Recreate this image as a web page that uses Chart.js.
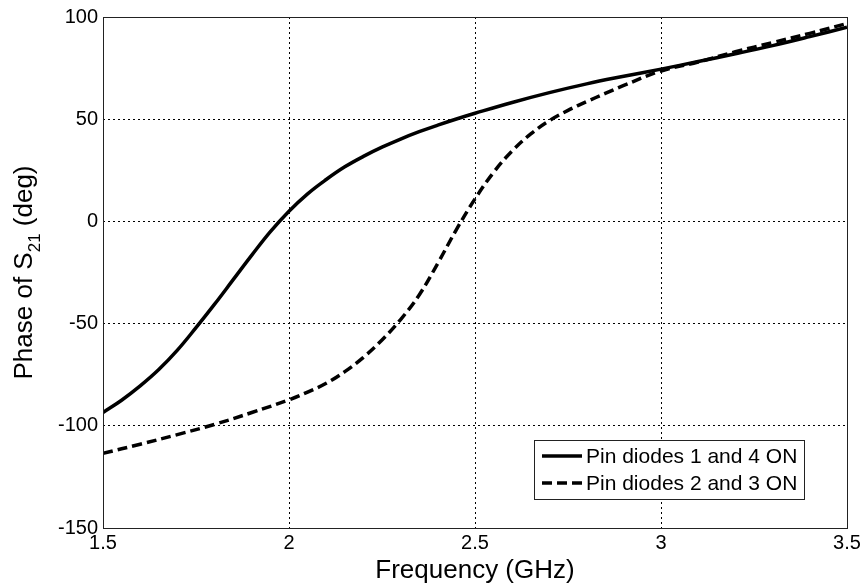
<html><head>
<style>
body { margin: 0; background: #fff; }
#wrap { width: 867px; height: 588px; }
</style>
</head>
<body>
<script src="https://cdn.jsdelivr.net/npm/chart.js@4/dist/chart.umd.min.js"></script>
<div id="wrap"><canvas id="myChart" width="867" height="588"></canvas></div>
<script>
// frequency in GHz, phase in deg
freq1 = [1.50, 1.55, 1.60, 1.65, 1.70, 1.75, 1.80, 1.85, 1.90, 1.95, 2.00, 2.05, 2.10, 2.15, 2.20, 2.25, 2.30, 2.35, 2.40, 2.45, 2.50, 2.60, 2.70, 2.80, 2.90, 3.00, 3.10, 3.20, 3.30, 3.40, 3.50];
phase1 = [-93.5, -87.5, -80.5, -72.5, -63, -52, -40.5, -28.5, -16.5, -5, 5, 13.5, 20.5, 26.7, 31.8, 36.3, 40.3, 43.9, 47.1, 50.1, 52.9, 58.2, 63, 67.3, 71, 74.5, 78.2, 82, 86, 90.4, 95];
freq2 = [1.50, 1.60, 1.70, 1.80, 1.90, 2.00, 2.05, 2.10, 2.15, 2.20, 2.25, 2.30, 2.35, 2.40, 2.45, 2.50, 2.55, 2.60, 2.65, 2.70, 2.75, 2.80, 2.85, 2.90, 3.00, 3.10, 3.20, 3.30, 3.40, 3.50];
phase2 = [-113.5, -109, -104.3, -99.3, -93.5, -87.3, -83.5, -79.2, -73.5, -66.5, -58, -48, -36, -20.5, -4, 11, 24, 34.5, 42.8, 49.3, 54.3, 58.6, 62.6, 66.5, 73.6, 78, 83, 87.5, 92, 96.8];
labels = ['Pin diodes 1 and 4 ON', 'Pin diodes 2 and 3 ON'];
xTicks = [1.5, 2, 2.5, 3, 3.5];
yTicks = [-150, -100, -50, 0, 50, 100];

function pts(xs, ys) {
  out = [];
  for (let i = 0; i < xs.length; i++) out.push({x: xs[i], y: ys[i]});
  return out;
}

Chart.defaults.font.family = '"Liberation Sans", Arial, sans-serif';
Chart.defaults.color = '#000';

boxPlugin = {
  id: 'box',
  beforeDraw(chart) {
    c = chart.ctx;
    c.save();
    c.fillStyle = '#fff';
    c.fillRect(0, 0, chart.width, chart.height);
    c.restore();
  },
  afterDraw(chart) {
    a = chart.chartArea;
    c = chart.ctx;
    c.save();
    c.strokeStyle = '#222';
    c.lineWidth = 1;
    c.setLineDash([]);
    c.strokeRect(Math.round(a.left) + 0.5, Math.round(a.top) + 0.5, Math.round(a.right - a.left), Math.round(a.bottom - a.top));

    // y axis title, with the 21 as a subscript
    c.fillStyle = '#000';
    c.translate(32, (a.top + a.bottom) / 2);
    c.rotate(-Math.PI / 2);
    c.textBaseline = 'alphabetic';
    big = '26px "Liberation Sans", Arial, sans-serif';
    small = '17px "Liberation Sans", Arial, sans-serif';
    c.font = big; w1 = c.measureText('Phase of S').width; w3 = c.measureText(' (deg)').width;
    c.font = small; w2 = c.measureText('21').width;
    x0 = -(w1 + w2 + w3) / 2;
    c.font = big; c.fillText('Phase of S', x0, 0);
    c.font = small; c.fillText('21', x0 + w1, 8);
    c.font = big; c.fillText(' (deg)', x0 + w1 + w2, 0);
    c.restore();

    // legend box, lower right
    c.save();
    lx = 534.5; ly = 440.5; lw = 270; lh = 59;
    c.fillStyle = '#fff';
    c.fillRect(lx, ly, lw, lh);
    c.strokeStyle = '#222';
    c.lineWidth = 1;
    c.strokeRect(lx, ly, lw, lh);
    c.font = '21px "Liberation Sans", Arial, sans-serif';
    c.textBaseline = 'middle';
    chart.data.datasets.forEach(function(ds, i) {
      yy = 456 + i * 27;
      c.strokeStyle = '#000';
      c.lineWidth = ds.borderWidth;
      c.setLineDash(ds.borderDash || []);
      c.beginPath();
      c.moveTo(542, yy);
      c.lineTo(582, yy);
      c.stroke();
      c.fillStyle = '#000';
      c.fillText(ds.label, 586, yy + 1);
    });
    c.restore();
  }
};

ctx = document.getElementById('myChart').getContext('2d');
myChart = new Chart(ctx, {
  type: 'line',
  data: {
    datasets: [{
      label: labels[0],
      data: pts(freq1, phase1),
      borderColor: '#000',
      borderWidth: 3.5,
      pointRadius: 0,
      tension: 0.4,
      fill: false
    },
    {
      label: labels[1],
      data: pts(freq2, phase2),
      borderColor: '#000',
      borderWidth: 3.5,
      borderDash: [10, 5],
      pointRadius: 0,
      tension: 0.4,
      fill: false
    }]
  },
  options: {
    responsive: false,
    animation: false,
    layout: { padding: { left: 0, top: 16, right: 20, bottom: 0 } },
    plugins: { legend: { display: false }, tooltip: { enabled: false } },
    scales: {
      x: {
        type: 'linear',
        min: 1.5, max: 3.5,
        afterFit(scale) { scale.height = 60; },
        afterBuildTicks(scale) { scale.ticks = xTicks.map(v => ({value: v})); },
        ticks: { font: { size: 20 }, padding: 3, maxRotation: 0, callback: v => String(v) },
        grid: { color: '#000', lineWidth: 1, drawTicks: false },
        border: { display: false, dash: [2, 3] },
        title: { display: true, text: 'Frequency (GHz)', font: { size: 26 }, padding: { top: 0, bottom: 2 } }
      },
      y: {
        min: -150, max: 100,
        afterFit(scale) { scale.width = 103; },
        afterBuildTicks(scale) { scale.ticks = yTicks.map(v => ({value: v})); },
        ticks: { font: { size: 20 }, padding: 5 },
        grid: { color: '#000', lineWidth: 1, drawTicks: false },
        border: { display: false, dash: [2, 3] }
      }
    }
  },
  plugins: [boxPlugin]
});
</script>
</body>
</html>
